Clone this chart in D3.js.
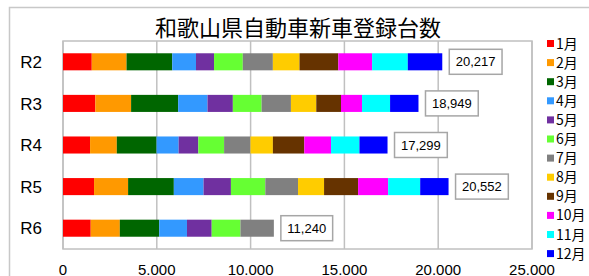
<!DOCTYPE html>
<html>
<head>
<meta charset="UTF-8">
<script src="https://d3js.org/d3.v7.min.js"></script>
<style>
  html, body { margin: 0; padding: 0; background: #fff; }
  svg { display: block; font-family: "Liberation Sans", Arial, "Noto Sans CJK JP", sans-serif; }
</style>
<title>和歌山県自動車新車登録台数</title>
</head>
<body>
<script>
// data
var years = ["R2", "R3", "R4", "R5", "R6"];
var months = ["1月", "2月", "3月", "4月", "5月", "6月", "7月", "8月", "9月", "10月", "11月", "12月"];
var colors = ["#ff0000", "#ff9900", "#006600", "#3399ff", "#7030a0", "#66ff33",
              "#808080", "#ffcc00", "#663300", "#ff00ff", "#00ffff", "#0000ff"];
var r2 = [1533, 1854, 2436, 1266, 962, 1533, 1603, 1421, 2068, 1801, 1902, 1838];
var r3 = [1724, 1906, 2509, 1564, 1351, 1532, 1564, 1351, 1318, 1121, 1495, 1514];
var r4 = [1443, 1425, 2120, 1176, 1051, 1372, 1407, 1194, 1675, 1425, 1514, 1497];
var r5 = [1655, 1815, 2438, 1584, 1459, 1833, 1744, 1388, 1815, 1601, 1708, 1512];
var r6 = [1478, 1550, 2102, 1478, 1318, 1532, 1782];
var xTicks = [0, 5000, 10000, 15000, 20000, 25000];

var rows = [r2, r3, r4, r5, r6];

var W = 589, H = 276;
var plot = {left: 63, right: 532, top: 41, bottom: 249};

var svg = d3.select("body").append("svg").attr("width", W).attr("height", H);

// chart frame
svg.append("rect").attr("x", 9.5).attr("y", 7.5).attr("width", 600).attr("height", 300)
    .attr("fill", "#fff").attr("stroke", "#c8c8c8").attr("stroke-width", 1.5);

var x = d3.scaleLinear().domain([0, 25000]).range([plot.left, plot.right]);
var y = d3.scaleBand().domain(years).range([plot.top, plot.bottom]).paddingInner(0.59).paddingOuter(0.295);

var dotFmt = d3.formatLocale({decimal: ",", thousands: ".", grouping: [3], currency: ["", ""]}).format(",");
var commaFmt = d3.format(",");

// grid
svg.append("g").selectAll("line").data(xTicks).enter().append("line")
    .attr("x1", function(d) { return x(d); }).attr("x2", function(d) { return x(d); })
    .attr("y1", plot.top).attr("y2", plot.bottom)
    .attr("stroke", "#c0c0c0").attr("stroke-width", 1.5);
svg.append("rect").attr("x", plot.left).attr("y", plot.top)
    .attr("width", plot.right - plot.left).attr("height", plot.bottom - plot.top)
    .attr("fill", "none").attr("stroke", "#c0c0c0").attr("stroke-width", 1.5);

// stacked bars
rows.forEach(function(vals, i) {
    var stacked = [];
    var acc = 0;
    vals.forEach(function(v, m) {
        stacked.push({x0: acc, x1: acc + v, m: m});
        acc += v;
    });
    var g = svg.append("g");
    g.selectAll("rect").data(stacked).enter().append("rect")
        .attr("x", function(d) { return x(d.x0); })
        .attr("width", function(d) { return x(d.x1) - x(d.x0); })
        .attr("y", y(years[i]))
        .attr("height", y.bandwidth())
        .attr("fill", function(d) { return colors[d.m]; });

    // total label box
    var cy = y(years[i]) + y.bandwidth() / 2;
    var bx = x(acc) + 7;
    var lab = g.append("g");
    var box = lab.append("rect").attr("fill", "#fff").attr("stroke", "#a6a6a6").attr("stroke-width", 1.5);
    var t = lab.append("text").attr("y", cy).attr("dy", "0.36em")
        .attr("font-size", 13).attr("text-anchor", "middle").attr("fill", "#000")
        .text(commaFmt(acc));
    var tw = t.node().getComputedTextLength();
    var bw = tw + 13;
    box.attr("x", bx).attr("y", cy - 12.5).attr("width", bw).attr("height", 25);
    t.attr("x", bx + bw / 2);
});

// y labels
svg.append("g").selectAll("text").data(years).enter().append("text")
    .attr("x", 42).attr("y", function(d) { return y(d) + y.bandwidth() / 2; })
    .attr("dy", "0.36em").attr("text-anchor", "end").attr("font-size", 17)
    .text(function(d) { return d; });

// x labels
svg.append("g").selectAll("text").data(xTicks).enter().append("text")
    .attr("x", function(d) { return x(d); }).attr("y", 274.5)
    .attr("text-anchor", "middle").attr("font-size", 15)
    .text(function(d) { return dotFmt(d); });

// title
svg.append("text").attr("x", 298).attr("y", 36)
    .attr("text-anchor", "middle").attr("font-size", 22)
    .attr("font-family", "'Noto Sans CJK JP', sans-serif")
    .text("和歌山県自動車新車登録台数");

// legend
var leg = svg.append("g").selectAll("g").data(months).enter().append("g")
    .attr("transform", function(d, i) { return "translate(547," + (43.5 + i * 19.1) + ")"; });
leg.append("rect").attr("x", 0).attr("y", -3.5).attr("width", 7).attr("height", 7)
    .attr("fill", function(d, i) { return colors[i]; });
leg.append("text").attr("x", 9).attr("dy", "0.36em").attr("font-size", 14)
    .attr("font-family", "'Noto Sans CJK JP', sans-serif")
    .text(function(d) { return d; });
</script>
</body>
</html>
